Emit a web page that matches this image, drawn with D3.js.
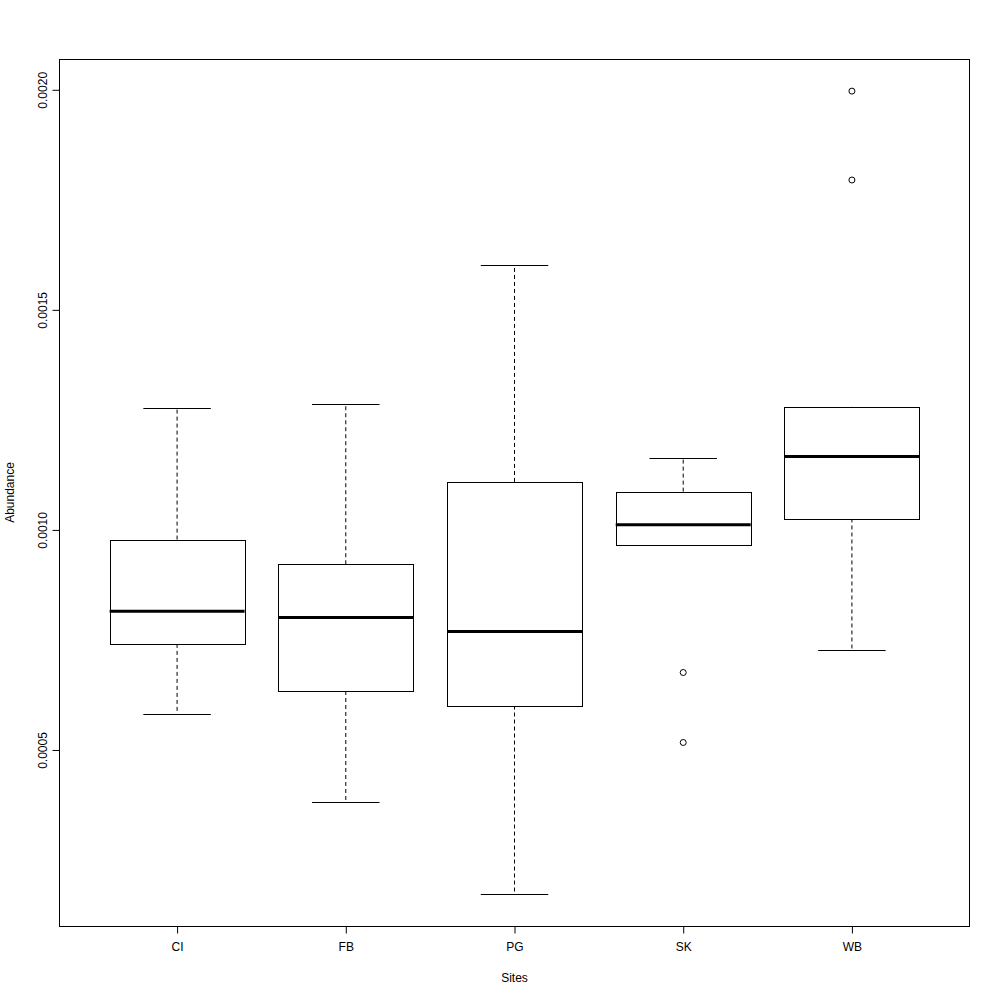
<!DOCTYPE html>
<html>
<head>
<meta charset="utf-8">
<script src="https://cdn.jsdelivr.net/npm/d3@7"></script>
<style>
  html, body { margin: 0; padding: 0; background: #fff; }
  text { font-family: "Liberation Sans", Arial, Helvetica, sans-serif; fill: #000; }
</style>
</head>
<body>
<svg id="chart" width="1000" height="1000"></svg>
<script>
// Data
const sites = ["CI", "FB", "PG", "SK", "WB"];
const whiskerLow  = [0.000582, 0.000382, 0.000173, 0.000966, 0.000727];
const q1          = [0.000741, 0.000634, 0.000601, 0.000966, 0.001026];
const median      = [0.000815, 0.000801, 0.000769, 0.001012, 0.001167];
const q3          = [0.000978, 0.000922, 0.001109, 0.001087, 0.001280];
const whiskerHigh = [0.001277, 0.001285, 0.001602, 0.001164, 0.001280];
const outlierSite  = ["SK", "SK", "WB", "WB"];
const outlierValue = [0.000676, 0.000517, 0.001795, 0.001997];
const yTicks = [0.0005, 0.0010, 0.0015, 0.0020];
const yTickLabels = ["0.0005", "0.0010", "0.0015", "0.0020"];

const svg = d3.select("#chart");
const L = 59, R = 970, T = 59, B = 926;

// x: R style positions 1..n with 4% extension of [0.5, n+0.5]
const n = sites.length;
const xr = [0.5, n + 0.5];
const xext = (xr[1] - xr[0]) * 0.04;
const x = d3.scaleLinear().domain([xr[0] - xext, xr[1] + xext]).range([L, R]);

const allVals = whiskerLow.concat(whiskerHigh, outlierValue);
const ymin = d3.min(allVals), ymax = d3.max(allVals);
const yext = (ymax - ymin) * 0.04;
const y = d3.scaleLinear().domain([ymin - yext, ymax + yext]).range([B, T]);

const boxes = sites.map((s, i) => ({
  site: s, pos: i + 1,
  lo: whiskerLow[i], q1: q1[i], med: median[i], q3: q3[i], hi: whiskerHigh[i]
}));

const boxHalf = 0.4, stapleHalf = 0.2;
const g = svg.append("g");

// whiskers (dashed)
g.selectAll(".wl").data(boxes).join("line")
  .attr("x1", d => x(d.pos)).attr("x2", d => x(d.pos))
  .attr("y1", d => y(d.q1)).attr("y2", d => y(d.lo))
  .attr("stroke", "#000").attr("stroke-width", 1).attr("stroke-dasharray", "4,3");
g.selectAll(".wh").data(boxes).join("line")
  .attr("x1", d => x(d.pos)).attr("x2", d => x(d.pos))
  .attr("y1", d => y(d.q3)).attr("y2", d => y(d.hi))
  .attr("stroke", "#000").attr("stroke-width", 1).attr("stroke-dasharray", "4,3");

// staples
g.selectAll(".sl").data(boxes).join("line")
  .attr("x1", d => x(d.pos - stapleHalf)).attr("x2", d => x(d.pos + stapleHalf))
  .attr("y1", d => Math.round(y(d.lo)) + 0.5).attr("y2", d => Math.round(y(d.lo)) + 0.5)
  .attr("stroke", "#000").attr("stroke-width", 1);
g.selectAll(".sh").data(boxes).join("line")
  .attr("x1", d => x(d.pos - stapleHalf)).attr("x2", d => x(d.pos + stapleHalf))
  .attr("y1", d => Math.round(y(d.hi)) + 0.5).attr("y2", d => Math.round(y(d.hi)) + 0.5)
  .attr("stroke", "#000").attr("stroke-width", 1);

// boxes
g.selectAll(".box").data(boxes).join("rect")
  .attr("x", d => Math.round(x(d.pos - boxHalf)) + 0.5)
  .attr("width", d => Math.round(x(d.pos + boxHalf) - x(d.pos - boxHalf)))
  .attr("y", d => Math.round(y(d.q3)) + 0.5)
  .attr("height", d => Math.round(y(d.q1) - y(d.q3)))
  .attr("fill", "#fff").attr("stroke", "#000").attr("stroke-width", 1);

// medians
g.selectAll(".med").data(boxes).join("line")
  .attr("x1", d => x(d.pos - boxHalf)).attr("x2", d => x(d.pos + boxHalf))
  .attr("y1", d => y(d.med)).attr("y2", d => y(d.med))
  .attr("stroke", "#000").attr("stroke-width", 3);

// outliers
g.selectAll(".out").data(outlierValue.map((v, i) => ({ site: outlierSite[i], v })))
  .join("circle")
  .attr("cx", d => x(sites.indexOf(d.site) + 1))
  .attr("cy", d => y(d.v))
  .attr("r", 3)
  .attr("fill", "none").attr("stroke", "#000").attr("stroke-width", 1);

// frame
svg.append("rect")
  .attr("x", L + 0.5).attr("y", T + 0.5)
  .attr("width", R - L - 1).attr("height", B - T)
  .attr("fill", "none").attr("stroke", "#000").attr("stroke-width", 1);

// x axis
const xAxis = d3.axisBottom(x)
  .tickValues(sites.map((s, i) => i + 1))
  .tickFormat((d, i) => sites[i])
  .tickSize(7).tickSizeOuter(0).tickPadding(9);
const gx = svg.append("g").attr("transform", `translate(0,${B + 0.5})`).call(xAxis);
gx.select(".domain").remove();
gx.selectAll("text").attr("font-size", 12).attr("font-family", "Liberation Sans, Arial, sans-serif").attr("fill", "#000");
gx.selectAll("line").attr("stroke", "#000");

// y axis
const yAxis = d3.axisLeft(y)
  .tickValues(yTicks)
  .tickFormat((d, i) => yTickLabels[i])
  .tickSize(7).tickSizeOuter(0);
const gy = svg.append("g").attr("transform", `translate(${L + 0.5},0)`).call(yAxis);
gy.select(".domain").remove();
gy.selectAll("line").attr("stroke", "#000");
gy.selectAll("text")
  .attr("font-size", 12).attr("font-family", "Liberation Sans, Arial, sans-serif").attr("fill", "#000")
  .attr("x", null).attr("dy", null)
  .attr("text-anchor", "middle")
  .attr("transform", d => `translate(${-17},0) rotate(-90)`)
  .attr("y", 0).attr("dy", "0.35em");

// axis titles
svg.append("text")
  .attr("x", x(3)).attr("y", 982)
  .attr("text-anchor", "middle").attr("font-size", 12)
  .text("Sites");
svg.append("text")
  .attr("transform", `translate(14,${(T + B) / 2}) rotate(-90)`)
  .attr("text-anchor", "middle").attr("font-size", 12)
  .text("Abundance");
</script>
</body>
</html>
